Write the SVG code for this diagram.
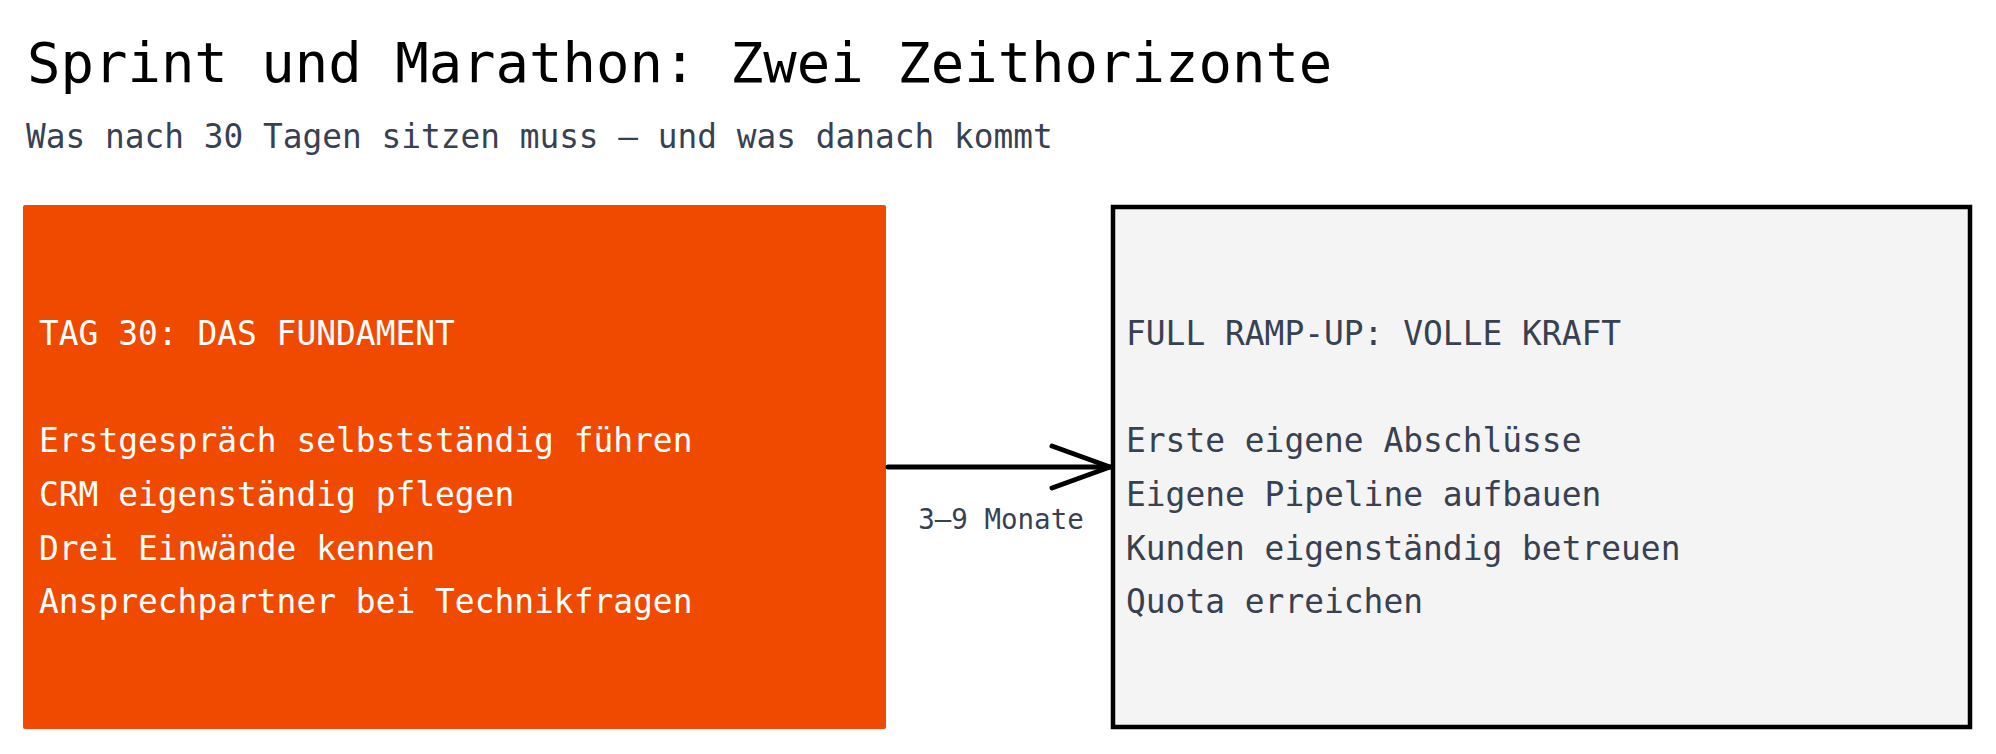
<svg xmlns="http://www.w3.org/2000/svg" width="1996" height="754" viewBox="0 0 1996 754">
<defs>
<style>
.mono{font-family:"DejaVu Sans Mono","Liberation Mono",monospace;}
.title{font-size:55.6px;fill:#000;}
.sub{font-size:32.8px;fill:#374151;}
.hdr{font-size:32.9px;}
.item{font-size:32.9px;}
.light{fill:#ffffff;}
.dark{fill:#374151;}
.lbl{font-size:27.5px;fill:#374151;}
.conn{stroke:#000;stroke-width:5;fill:none;stroke-linecap:round;stroke-linejoin:round;}
</style>
</defs>
<rect width="1996" height="754" fill="#ffffff"/>
<text class="mono title" x="27" y="82">Sprint und Marathon: Zwei Zeithorizonte</text>
<text class="mono sub" x="26" y="148">Was nach 30 Tagen sitzen muss – und was danach kommt</text>
<g id="node-tag30">
<rect x="23" y="205" width="863" height="524" rx="2" fill="#EF4A00"/>
<text class="mono hdr light" x="39" y="345">TAG 30: DAS FUNDAMENT</text>
<text class="mono item light" x="39" y="452">Erstgespräch selbstständig führen</text>
<text class="mono item light" x="39" y="506">CRM eigenständig pflegen</text>
<text class="mono item light" x="39" y="560">Drei Einwände kennen</text>
<text class="mono item light" x="39" y="613">Ansprechpartner bei Technikfragen</text>
</g>
<g id="node-fullramp">
<rect x="1113" y="207" width="857" height="520" fill="#F4F4F4" stroke="#000" stroke-width="4.5"/>
<text class="mono hdr dark" x="1126" y="345">FULL RAMP-UP: VOLLE KRAFT</text>
<text class="mono item dark" x="1126" y="452">Erste eigene Abschlüsse</text>
<text class="mono item dark" x="1126" y="506">Eigene Pipeline aufbauen</text>
<text class="mono item dark" x="1126" y="560">Kunden eigenständig betreuen</text>
<text class="mono item dark" x="1126" y="613">Quota erreichen</text>
</g>
<g id="connectors">
<path class="conn" d="M888 467 L1110 467"/>
<path class="conn" d="M1052 446 L1110 467 L1052 488"/>
<text class="mono lbl" x="1001" y="529" text-anchor="middle">3–9 Monate</text>
</g>
</svg>
